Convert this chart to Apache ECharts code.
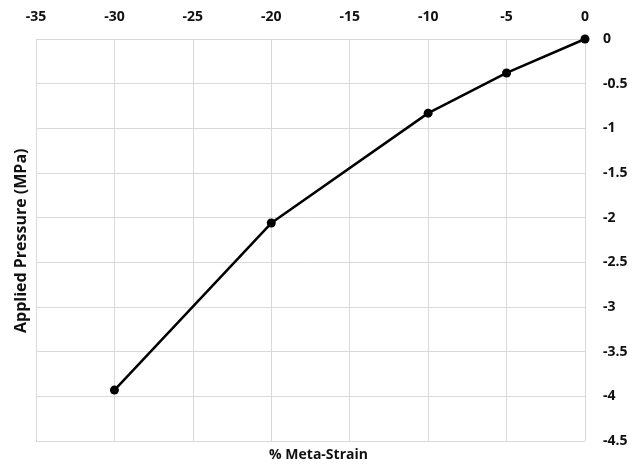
<!DOCTYPE html>
<html><head><meta charset="utf-8">
<script src="https://cdn.jsdelivr.net/npm/echarts@6/dist/echarts.min.js"></script>
<style>html,body{margin:0;padding:0;background:#fff}#c{width:637px;height:467px}</style>
</head><body><div id="c"></div>
<script>
const strain = [0, -5, -10, -20, -30];
const pressure = [0, -0.38, -0.83, -2.06, -3.93];
const xName = '% Meta-Strain';
const yName = 'Applied Pressure (MPa)';
const font = '"Open Sans", "Liberation Sans", sans-serif';
const chart = echarts.init(document.getElementById('c'));
chart.setOption({
  animation: false,
  grid: {left: 36, right: 52, top: 39, bottom: 26},
  xAxis: {
    type: 'value', position: 'top', min: -35, max: 0, interval: 5,
    axisLine: {show: false}, axisTick: {show: false},
    splitLine: {show: true, lineStyle: {color: '#d9d9d9', width: 1}},
    axisLabel: {color: '#111', fontWeight: 'bold', fontSize: 14, fontFamily: font, margin: 15}
  },
  yAxis: {
    type: 'value', position: 'right', min: -4.5, max: 0, interval: 0.5,
    axisLine: {show: false}, axisTick: {show: false},
    splitLine: {show: true, lineStyle: {color: '#d9d9d9', width: 1}},
    axisLabel: {color: '#111', fontWeight: 'bold', fontSize: 14, fontFamily: font, margin: 18}
  },
  graphic: [
    {type: 'text', left: 'center', top: 448, style: {text: xName, font: 'bold 14px ' + font, fill: '#111'}},
    {type: 'text', rotation: Math.PI / 2, x: 13, y: 333, style: {text: yName, font: 'bold 16px ' + font, fill: '#111'}}
  ],
  series: [{
    type: 'line',
    data: strain.map((s, i) => [s, pressure[i]]),
    symbol: 'circle', symbolSize: 9,
    lineStyle: {color: '#000', width: 2.5},
    itemStyle: {color: '#000'}
  }]
});
</script></body></html>
